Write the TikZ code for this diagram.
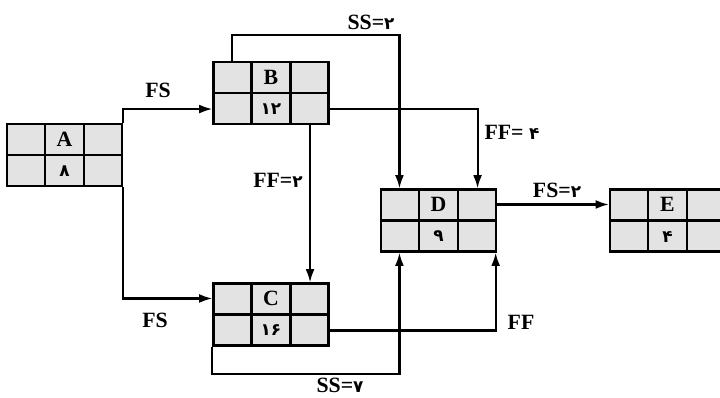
\documentclass[tikz,border=0pt]{standalone}
\usepackage{fontspec}
\setmainfont{Liberation Serif}
\newfontfamily\fadig{DejaVu Sans}
\usetikzlibrary{arrows.meta,calc,positioning}
\newcommand{\fa}[1]{{\fadig\bfseries\fontsize{12}{13}\selectfont #1}}
\tikzset{
  act/.style={rectangle,draw,line width=1.5pt,fill=gray!22,
    minimum width=2.875cm,minimum height=1.55cm,inner sep=0pt},
  grid/.style={line width=1.5pt},
  lab/.style={font=\fontsize{15.5}{17}\selectfont\bfseries,inner sep=1pt},
  arr/.style={-{Latex[length=3.3mm,width=2.2mm]},line width=1.5pt}
}
% activity box: name, centre, letter, duration
\newcommand{\actbox}[4]{%
  \node[act] (#1) at (#2) {};
  \draw[grid] ($(#1.north west)!1/3!(#1.north east)$) -- ($(#1.south west)!1/3!(#1.south east)$);
  \draw[grid] ($(#1.north west)!2/3!(#1.north east)$) -- ($(#1.south west)!2/3!(#1.south east)$);
  \draw[grid] (#1.west) -- (#1.east);
  \node[lab] (#1-l) at ($(#1.north)!0.5!(#1.center)$) {#3};
  \node[lab] (#1-d) at ($(#1.south)!0.5!(#1.center)$) {\fa{#4}};
}

\begin{document}
\begin{tikzpicture}[x=0.025cm,y=-0.025cm]
  \useasboundingbox (0,0) rectangle (720,397);
  \actbox{A}{64.5,155}{A}{۸}
  \actbox{B}{271,93}{B}{۱۲}
  \actbox{C}{271,314.5}{C}{۱۶}
  \actbox{D}{438.5,220.5}{D}{۹}
  \actbox{E}{667.5,220.5}{E}{۴}
  % A to B and C
  \draw[arr] (A.north east) |- ($(B.west)!0.5!(B.south west)$);
  \draw[arr] (A.south east) |- ($(C.west)!0.5!(C.north west)$);
  \node[lab] (fs1) at (158,90) {FS};
  \node[lab] (fs2) at (155,320) {FS};
  % B to D
  \draw[arr] ($(B.north west)!1/6!(B.north east)$) -- ++(0,-26)
    -| ($(D.north west)!1/6!(D.north east)$);
  \node[lab] (ss2) at (371,22) {SS=\fa{۲}};
  \draw[arr] ($(B.east)!0.5!(B.south east)$) -| ($(D.north west)!5/6!(D.north east)$);
  \node[lab] (ff4) at (512,132) {FF= \fa{۴}};
  % B to C
  \draw[arr] ($(B.south west)!5/6!(B.south east)$) -- ($(C.north west)!5/6!(C.north east)$);
  \node[lab] (ff2) at (278,180) {FF=\fa{۲}};
  % D to E
  \draw[arr] ($(D.east)!0.5!(D.north east)$) -- ($(E.west)!0.5!(E.north west)$);
  \node[lab] (fs3) at (557,190) {FS=\fa{۲}};
  % C to D
  \draw[arr] ($(C.east)!0.5!(C.south east)$) -| ([xshift=-1pt]D.south east);
  \node[lab] (ff) at (521,322) {FF};
  \draw[arr] (C.south west) -- ++(0,27) -| ($(D.south west)!1/6!(D.south east)$);
  \node[lab] (ss7) at (340,385) {SS=\fa{۷}};
\end{tikzpicture}
\end{document}
